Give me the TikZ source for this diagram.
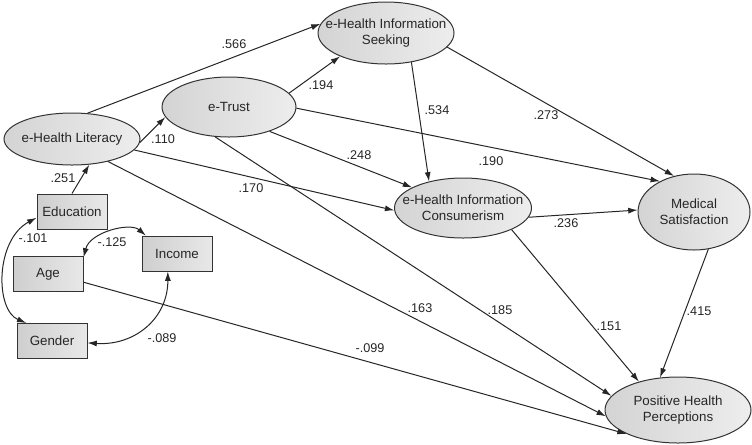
\documentclass[tikz,border=0pt]{standalone}
\usepackage{fontspec}
\setmainfont{Liberation Sans}
\usetikzlibrary{shapes.geometric,arrows.meta}
\begin{document}
\begin{tikzpicture}[x=0.75pt,y=-0.75pt,
  ell/.style={ellipse,draw=black!80,line width=0.75pt,inner sep=0pt,left color=black!17,right color=black!7},
  obs/.style={rectangle,draw=black!80,line width=0.75pt,inner sep=0pt,minimum width=52.5pt,minimum height=26.25pt,left color=black!19,right color=black!9,font=\fontsize{10}{12}\selectfont,text=black!85},
  txt/.style={align=center,font=\fontsize{10}{12}\selectfont,text=black!85,inner sep=0pt},
  arr/.style={draw=black!85,line width=0.75pt,-{Latex[length=7pt,width=4.5pt]}},
  cov/.style={draw=black!85,line width=0.75pt,{Latex[length=7pt,width=4.5pt]}-{Latex[length=7pt,width=4.5pt]}},
  coef/.style={font=\fontsize{9.5}{11}\selectfont,text=black!85,inner sep=0pt}]
\useasboundingbox (0,0) rectangle (752,444);

% latent variables
\node[ell,minimum width=102pt,minimum height=39pt] (lit) at (72,139) {};
\node[txt] (litT) at (lit.center) {e-Health Literacy};
\node[ell,minimum width=100.5pt,minimum height=45pt] (trust) at (229,107) {};
\node[txt] (trustT) at (trust.center) {e-Trust};
\node[ell,minimum width=102pt,minimum height=46.5pt] (seek) at (386,33) {};
\node[txt] (seekT) at (seek.center) {e-Health Information\\Seeking};
\node[ell,minimum width=102.75pt,minimum height=45pt] (cons) at (463,208) {};
\node[txt] (consT) at (cons.center) {e-Health Information\\Consumerism};
\node[ell,minimum width=84pt,minimum height=57pt] (med) at (694,212) {};
\node[txt] (medT) at (med.center) {Medical\\Satisfaction};
\node[ell,minimum width=109.5pt,minimum height=49.5pt] (pos) at (678,410) {};
\node[txt] (posT) at (pos.center) {Positive Health\\Perceptions};

% observed variables
\node[obs] (edu) at (72,211.5) {Education};
\node[obs] (age) at (48,274) {Age};
\node[obs] (inc) at (177,253.5) {Income};
\node[obs] (gen) at (52,341) {Gender};

% paths
\draw[arr] (lit.59) -- (seek.172);
\draw[arr] (lit.-3) -- (trust.189);
\draw[arr] (lit.-10) -- (cons.182);
\draw[arr] (lit.-32) -- (pos.185);
\draw[arr] (edu.north) -- (lit.-56);
\draw[arr] (trust.13) -- (seek.207);
\draw[arr] (trust.-31) -- (cons.158);
\draw[arr] (trust.-1) -- (med.138);
\draw[arr] (trust.245) -- (pos.168);
\draw[arr] (seek.-49) -- (cons.142);
\draw[arr] (seek.-13) -- (med.119);
\draw[arr] (cons.-8) -- (med.178);
\draw[arr] (cons.-24) -- (pos.144);
\draw[arr] (med.-69) -- (pos.119);
\draw[arr] (age.-13) -- (pos.205);

% covariances
\draw[cov] (edu.190) .. controls (-5,240) and (-5,310) .. (gen.145);
\draw[cov] (age.25) .. controls (90,232) and (130,222) .. (inc.150);
\draw[cov] (gen.-3) .. controls (135,346) and (168,318) .. (inc.243);

% coefficients
\node[coef] (c1) at (234,44) {.566};
\node[coef] (c2) at (163,139) {.110};
\node[coef] (c3) at (63,178) {.251};
\node[coef] (c4) at (33,238) {-.101};
\node[coef] (c5) at (112,242) {-.125};
\node[coef] (c6) at (162,338) {-.089};
\node[coef] (c7) at (321,85) {.194};
\node[coef] (c8) at (437,110) {.534};
\node[coef] (c9) at (546,115) {.273};
\node[coef] (c10) at (491,161) {.190};
\node[coef] (c11) at (359,155) {.248};
\node[coef] (c12) at (251,188) {.170};
\node[coef] (c13) at (566,223) {.236};
\node[coef] (c14) at (420,308) {.163};
\node[coef] (c15) at (500,310) {.185};
\node[coef] (c16) at (370,348) {-.099};
\node[coef] (c17) at (609,326) {.151};
\node[coef] (c18) at (699,311) {.415};
\end{tikzpicture}
\end{document}
